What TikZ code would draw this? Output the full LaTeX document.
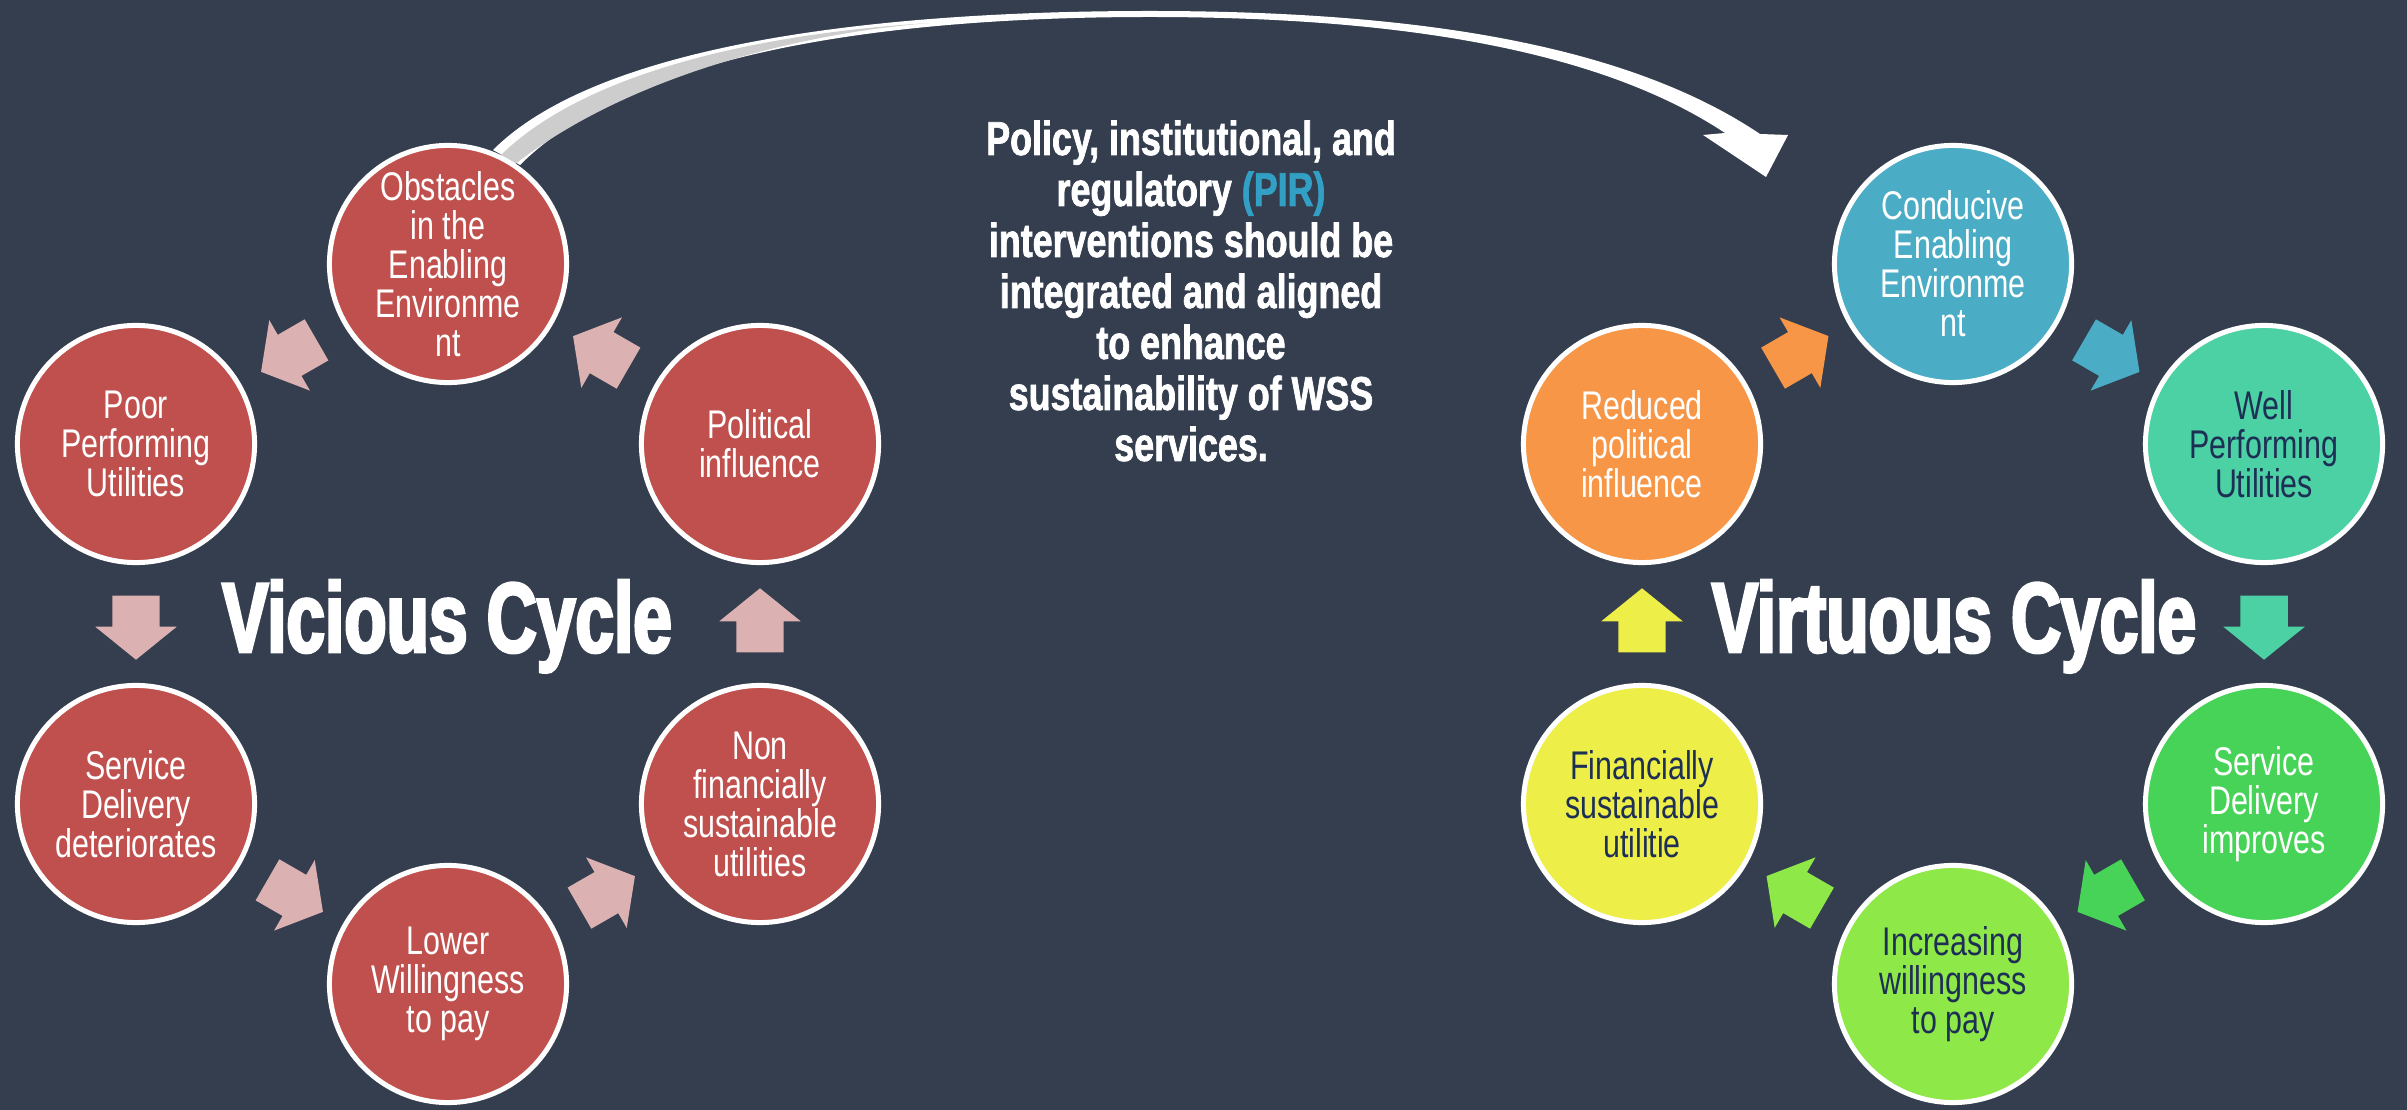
\documentclass[tikz,border=0pt]{standalone}
\usepackage{fontspec}
\usetikzlibrary{shapes.arrows}
\newfontfamily\circfont{Liberation Sans}[FakeStretch=0.76]
\newfontfamily\bigfont{Liberation Sans}[FakeStretch=0.70,FakeBold=3]
\newfontfamily\pirfont{Liberation Sans}[FakeStretch=0.755,FakeBold=1.5]
\definecolor{bg}{RGB}{52,62,79}
\definecolor{vred}{RGB}{192,80,77}
\definecolor{vpink}{RGB}{219,177,177}
\definecolor{cblue}{RGB}{75,172,198}
\definecolor{cteal}{RGB}{75,209,163}
\definecolor{cgreen}{RGB}{71,211,87}
\definecolor{clime}{RGB}{142,232,72}
\definecolor{cyell}{RGB}{238,238,72}
\definecolor{corange}{RGB}{247,150,70}
\definecolor{navy}{RGB}{30,47,85}
\definecolor{pirblue}{RGB}{50,160,196}
\definecolor{ribbon}{RGB}{205,205,205}
\begin{document}
\begin{tikzpicture}[x=0.01cm,y=-0.01cm,
  circ/.style={circle, draw=white, line width=0.05cm, minimum size=2.37cm,
    inner sep=0pt, align=center, text=white,
    font={\circfont\fontsize{11.38pt}{11.1pt}\selectfont}},
  blockarrow/.style={single arrow, draw=none, inner sep=0pt,
    minimum height=0.64cm, single arrow head extend=0.17cm,
    single arrow tip angle=102, single arrow head indent=0pt,
    sloped, allow upside down, pos=0.45},
  titletext/.style={text=white, inner sep=0pt,
    font={\bigfont\bfseries\fontsize{28.17pt}{30pt}\selectfont}},
  pirtext/.style={text=white, inner sep=0pt, align=center,
    font={\pirfont\bfseries\fontsize{13.5pt}{14.5pt}\selectfont}}]
\newcommand\shaft{\rule{0pt}{0.46cm}}
\fill[bg] (0,0) rectangle (2407,1110);
\useasboundingbox (0,0) rectangle (2407,1110);

% big curved arrow
\fill[white] (493,150) .. controls (593,50) and (850,11) .. (1150,11)
  .. controls (1400,11) and (1620,40) .. (1760,134)
  -- (1788,135) -- (1766,177) -- (1703,135) -- (1725,133)
  .. controls (1600,50) and (1400,17) .. (1150,17)
  .. controls (860,17) and (625,60) .. (520,165) -- cycle;
\fill[ribbon] (501,155) .. controls (592,66) and (780,32) .. (930,23)
  .. controls (790,34) and (622,80) .. (514,165) -- cycle;

% vicious cycle
\node[circ, fill=vred] (o1) at (448,264) {Obstacles\\in the\\Enabling\\Environme\\nt};
\node[circ, fill=vred] (o2) at (136,444) {Poor\\Performing\\Utilities};
\node[circ, fill=vred] (o3) at (136,804) {Service\\Delivery\\deteriorates};
\node[circ, fill=vred] (o4) at (448,984) {Lower\\Willingness\\to pay};
\node[circ, fill=vred] (o5) at (760,804) {Non\\financially\\sustainable\\utilities};
\node[circ, fill=vred] (o6) at (760,444) {Political\\influence};

\path (o1) -- node[blockarrow, fill=vpink] (a1) {\shaft} (o2);
\path (o2) -- node[blockarrow, fill=vpink] (a2) {\shaft} (o3);
\path (o3) -- node[blockarrow, fill=vpink] (a3) {\shaft} (o4);
\path (o4) -- node[blockarrow, fill=vpink] (a4) {\shaft} (o5);
\path (o5) -- node[blockarrow, fill=vpink] (a5) {\shaft} (o6);
\path (o6) -- node[blockarrow, fill=vpink] (a6) {\shaft} (o1);

\node[titletext, anchor=base] (vic) at (447,652) {Vicious Cycle};

% virtuous cycle
\node[circ, fill=cblue] (v1) at (1953,264) {Conducive\\Enabling\\Environme\\nt};
\node[circ, fill=cteal, text=navy] (v2) at (2264,444) {Well\\Performing\\Utilities};
\node[circ, fill=cgreen] (v3) at (2264,804) {Service\\Delivery\\improves};
\node[circ, fill=clime, text=navy] (v4) at (1953,984) {Increasing\\willingness\\to pay};
\node[circ, fill=cyell, text=navy] (v5) at (1642,804) {Financially\\sustainable\\utilitie};
\node[circ, fill=corange] (v6) at (1642,444) {Reduced\\political\\influence};

\path (v6) -- node[blockarrow, fill=corange] (b1) {\shaft} (v1);
\path (v1) -- node[blockarrow, fill=cblue] (b2) {\shaft} (v2);
\path (v2) -- node[blockarrow, fill=cteal] (b3) {\shaft} (v3);
\path (v3) -- node[blockarrow, fill=cgreen] (b4) {\shaft} (v4);
\path (v4) -- node[blockarrow, fill=clime] (b5) {\shaft} (v5);
\path (v5) -- node[blockarrow, fill=cyell] (b6) {\shaft} (v6);

\node[titletext, anchor=base] (vir) at (1954,652) {Virtuous Cycle};

% central message
\node[pirtext] (pir) at (1191,291) {Policy, institutional, and\\regulatory {\color{pirblue}(PIR)}\\interventions should be\\integrated and aligned\\to enhance\\sustainability of WSS\\services.};
\end{tikzpicture}
\end{document}
